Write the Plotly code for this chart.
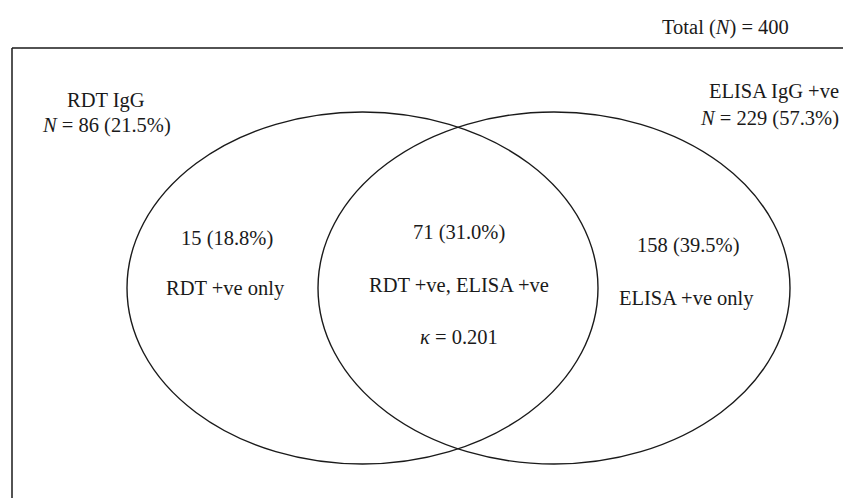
import plotly.graph_objects as go

# ---- data ----
total_n = 400
set_names = ["RDT IgG", "ELISA IgG +ve"]
set_counts = [86, 229]
set_pcts = [21.5, 57.3]
region_counts = [15, 71, 158]
region_pcts = [18.8, 31.0, 39.5]
region_names = ["RDT +ve only", "RDT +ve, ELISA +ve", "ELISA +ve only"]
kappa = 0.201

W, H = 843, 498
FONT = "Liberation Serif"
FS = 20.5
INK = "#1a1a1a"

fig = go.Figure()
fig.add_trace(go.Scatter(x=[0, W], y=[0, H], mode="markers",
                         marker=dict(opacity=0), hoverinfo="skip", showlegend=False))

# ellipses (left = RDT, right = ELISA)
ellipses = [(127, 112, 598, 464), (318, 112, 790, 464)]
shapes = []
for x0, y0, x1, y1 in ellipses:
    shapes.append(dict(type="circle", xref="x", yref="y", x0=x0, y0=y0, x1=x1, y1=y1,
                       line=dict(color=INK, width=1.4)))
# frame: top and left
shapes.append(dict(type="line", xref="x", yref="y", x0=12, y0=48, x1=W, y1=48,
                   line=dict(color=INK, width=1.5)))
shapes.append(dict(type="line", xref="x", yref="y", x0=12, y0=48, x1=12, y1=H,
                   line=dict(color=INK, width=1.5)))

ann = []
def add(x, y, text, xa="center"):
    ann.append(dict(x=x, y=y, xref="x", yref="y", text=text, showarrow=False,
                    xanchor=xa, yanchor="middle", font=dict(family=FONT, size=FS, color=INK)))

add(791, 27, f"Total (<i>N</i>) = {total_n}", xa="right")
add(106, 100, set_names[0])
add(106, 125, f"<i>N</i> = {set_counts[0]} ({set_pcts[0]}%)")
add(774, 91, set_names[1])
add(841, 118, f"<i>N</i> = {set_counts[1]} ({set_pcts[1]}%)", xa="right")

add(227, 238, f"{region_counts[0]} ({region_pcts[0]}%)")
add(225, 288, region_names[0])
add(459, 232, f"{region_counts[1]} ({region_pcts[1]}%)")
add(459, 285, region_names[1])
add(459, 337, f"<i>κ</i> = {kappa}")
add(688, 245, f"{region_counts[2]} ({region_pcts[2]}%)")
add(686, 298, region_names[2])

fig.update_layout(
    width=W, height=H, autosize=False,
    margin=dict(l=0, r=0, t=0, b=0),
    paper_bgcolor="white", plot_bgcolor="white",
    xaxis=dict(range=[0, W], visible=False, fixedrange=True),
    yaxis=dict(range=[H, 0], visible=False, fixedrange=True),
    shapes=shapes, annotations=ann, showlegend=False,
)
fig.write_html("out.html", config={"displayModeBar": False},
               post_script="document.body.style.margin='0';document.body.style.overflow='hidden';")
